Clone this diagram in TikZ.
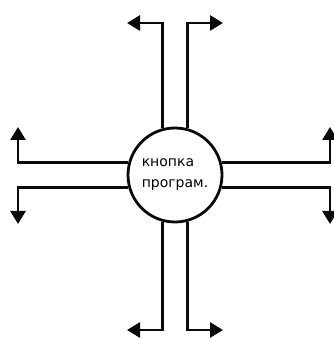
\documentclass[tikz,border=0pt]{standalone}
\usepackage{fontspec}
\setmainfont{DejaVu Sans}
\usepackage{tikz}
\usetikzlibrary{arrows.meta,positioning}
\definecolor{ink}{RGB}{10,10,10}
\tikzset{
  flow/.style={-{Triangle[length=13pt,width=15pt]},line width=2.8pt,draw=ink},
  hub/.style={circle,draw=ink,line width=2.8pt,fill=white,minimum size=94pt,inner sep=0pt,align=left,font=\fontsize{14}{21}\selectfont}
}
\begin{document}
\begin{tikzpicture}[x=1pt,y=1pt]
  \useasboundingbox (0,0) rectangle (334,338);
  \node[hub] (btn) at (175,163) {кнопка\\програм.};
  % arrow ends
  \coordinate (upL) at (127,315);
  \coordinate (upR) at (223,315);
  \coordinate (downL) at (127,8);
  \coordinate (downR) at (223,8);
  \coordinate (leftU) at (18,211);
  \coordinate (leftD) at (18,114);
  \coordinate (rightU) at (330,211);
  \coordinate (rightD) at (330,114);
  \draw[flow] (btn.105) |- (upL); \draw[flow] (btn.75) |- (upR);
  \draw[flow] (btn.255) |- (downL); \draw[flow] (btn.285) |- (downR);
  \draw[flow] (btn.165) -| (leftU); \draw[flow] (btn.195) -| (leftD);
  \draw[flow] (btn.15) -| (rightU); \draw[flow] (btn.345) -| (rightD);
\end{tikzpicture}
\end{document}
